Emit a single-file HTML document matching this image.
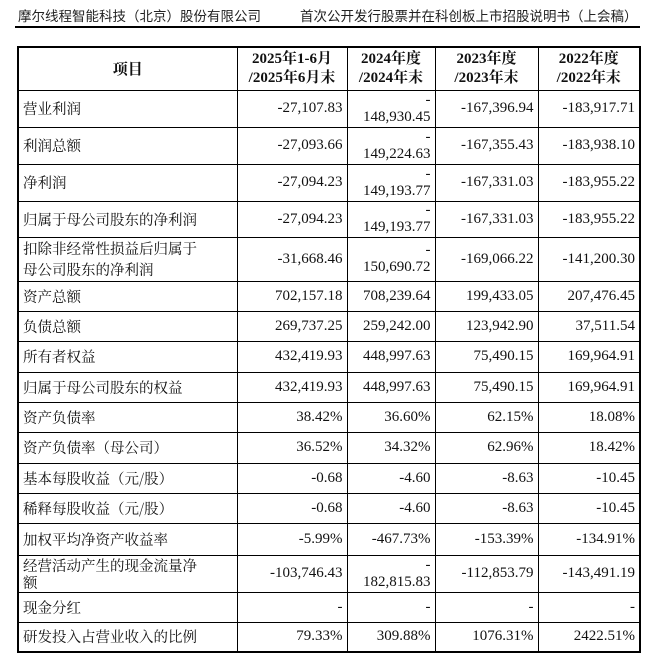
<!DOCTYPE html>
<html><head><meta charset="utf-8"><style>
body{margin:0;width:654px;height:656px;background:#fff;position:relative;overflow:hidden;font-family:"Liberation Serif","Noto Serif CJK SC",serif;color:#111}
.hd{position:absolute;top:5px;font-size:13.5px;font-family:"Liberation Sans","Noto Sans CJK SC",sans-serif;color:#222}
.rule{position:absolute;left:15px;top:26px;width:625px;height:2px;background:#000}
table{position:absolute;left:17px;top:46px;border-collapse:collapse;table-layout:fixed;border:2px solid #000}
td{border:1px solid #000;font-size:15px;padding:0 4px;text-align:right;line-height:17px}
td:first-child{text-align:left;font-family:"Noto Serif CJK SC",serif;font-size:14.5px;line-height:17px}
tr.h td{text-align:center;font-weight:bold;font-size:15px;line-height:19px}
</style></head><body>
<div class="hd" style="left:18px">摩尔线程智能科技（北京）股份有限公司</div>
<div class="hd" style="left:300px">首次公开发行股票并在科创板上市招股说明书（上会稿）</div>
<div class="rule"></div>
<table>
<colgroup><col style="width:219px"><col style="width:110px"><col style="width:88px"><col style="width:103px"><col style="width:102px"></colgroup>
<tr class="h" style="height:43px"><td style="text-align:center;font-family:'Noto Serif CJK SC',serif;font-weight:bold">项目</td><td>2025年1-6月<br>/2025年6月末</td><td>2024年度<br>/2024年末</td><td>2023年度<br>/2023年末</td><td>2022年度<br>/2022年末</td></tr>
<tr style="height:37px"><td>营业利润</td><td>-27,107.83</td><td>-<br>148,930.45</td><td>-167,396.94</td><td>-183,917.71</td></tr>
<tr style="height:37px"><td>利润总额</td><td>-27,093.66</td><td>-<br>149,224.63</td><td>-167,355.43</td><td>-183,938.10</td></tr>
<tr style="height:37px"><td>净利润</td><td>-27,094.23</td><td>-<br>149,193.77</td><td>-167,331.03</td><td>-183,955.22</td></tr>
<tr style="height:36px"><td>归属于母公司股东的净利润</td><td>-27,094.23</td><td>-<br>149,193.77</td><td>-167,331.03</td><td>-183,955.22</td></tr>
<tr style="height:44px"><td style="line-height:21px">扣除非经常性损益后归属于<br>母公司股东的净利润</td><td>-31,668.46</td><td>-<br>150,690.72</td><td>-169,066.22</td><td>-141,200.30</td></tr>
<tr style="height:30px"><td>资产总额</td><td>702,157.18</td><td>708,239.64</td><td>199,433.05</td><td>207,476.45</td></tr>
<tr style="height:30px"><td>负债总额</td><td>269,737.25</td><td>259,242.00</td><td>123,942.90</td><td>37,511.54</td></tr>
<tr style="height:31px"><td>所有者权益</td><td>432,419.93</td><td>448,997.63</td><td>75,490.15</td><td>169,964.91</td></tr>
<tr style="height:30px"><td>归属于母公司股东的权益</td><td>432,419.93</td><td>448,997.63</td><td>75,490.15</td><td>169,964.91</td></tr>
<tr style="height:30px"><td>资产负债率</td><td>38.42%</td><td>36.60%</td><td>62.15%</td><td>18.08%</td></tr>
<tr style="height:31px"><td>资产负债率（母公司）</td><td>36.52%</td><td>34.32%</td><td>62.96%</td><td>18.42%</td></tr>
<tr style="height:30px"><td>基本每股收益（元/股）</td><td>-0.68</td><td>-4.60</td><td>-8.63</td><td>-10.45</td></tr>
<tr style="height:30px"><td>稀释每股收益（元/股）</td><td>-0.68</td><td>-4.60</td><td>-8.63</td><td>-10.45</td></tr>
<tr style="height:32px"><td>加权平均净资产收益率</td><td>-5.99%</td><td>-467.73%</td><td>-153.39%</td><td>-134.91%</td></tr>
<tr style="height:37px"><td>经营活动产生的现金流量净<br>额</td><td>-103,746.43</td><td>-<br>182,815.83</td><td>-112,853.79</td><td>-143,491.19</td></tr>
<tr style="height:30px"><td>现金分红</td><td>-</td><td>-</td><td>-</td><td>-</td></tr>
<tr style="height:30px"><td>研发投入占营业收入的比例</td><td>79.33%</td><td>309.88%</td><td>1076.31%</td><td>2422.51%</td></tr>
</table>
</body></html>
